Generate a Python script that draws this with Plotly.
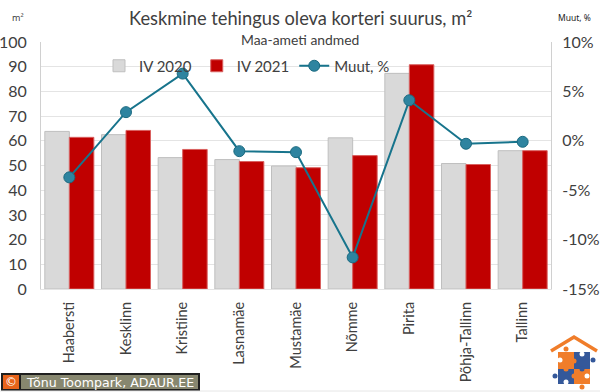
import plotly.graph_objects as go

categories = ["Haabersti", "Kesklinn", "Kristiine", "Lasnamäe", "Mustamäe", "Nõmme", "Pirita", "Põhja-Tallinn", "Tallinn"]
iv_2020 = [63.8, 62.5, 53.2, 52.4, 49.8, 61.2, 87.3, 50.8, 56.0]
iv_2021 = [61.4, 64.2, 56.5, 51.6, 49.1, 54.0, 90.8, 50.4, 56.0]
muut = [-3.7, 2.9, 6.8, -1.05, -1.15, -11.8, 4.1, -0.3, -0.1]
left_ticks = [0, 10, 20, 30, 40, 50, 60, 70, 80, 90, 100]
right_ticks = [-15, -10, -5, 0, 5, 10]
right_labels = ["-15%", "-10%", "-5%", "0%", "5%", "10%"]

W, H = 600, 392
FONT = "Lato"
TXT = "#404040"
GRID = "#e4e4e4"

fig = go.Figure()
fig.add_bar(x=categories, y=iv_2020, name="IV 2020", marker=dict(color="#d9d9d9", line=dict(color="#bfbfbf", width=1)))
fig.add_bar(x=categories, y=iv_2021, name="IV 2021", marker=dict(color="#c00000", line=dict(color="#d9605f", width=1)))
fig.add_scatter(x=categories, y=muut, name="Muut, %", yaxis="y2", mode="lines+markers",
                line=dict(color="#17748c", width=2),
                marker=dict(size=11, color="#2e84a0", line=dict(color="#1a6a80", width=1)))

shapes = [
    dict(type="rect", xref="paper", yref="paper", x0=(126-41)/510, x1=(474-41)/510, y0=1-6/247, y1=1+8/247,
         fillcolor="white", line_width=0, layer="between"),
    dict(type="line", xref="paper", yref="paper", x0=-41/510, x1=559/510, y0=(289-391)/247, y1=(289-391)/247,
         line=dict(color="#e6e6e6", width=1)),
]

def lp(x, y):
    return (x - 41) / 510, (289 - y) / 247
def rect(x0, y0, x1, y1, c, layer="above"):
    a, b = lp(x0, y0); d, e = lp(x1, y1)
    shapes.append(dict(type="rect", xref="paper", yref="paper", x0=a, y0=b, x1=d, y1=e, fillcolor=c, line_width=0, layer=layer))
def line(pts, c, w):
    path = "M " + " L ".join("%.4f,%.4f" % lp(*p) for p in pts)
    shapes.append(dict(type="path", xref="paper", yref="paper", path=path, line=dict(color=c, width=w)))
def dot(x, y, r, c):
    a, b = lp(x - r, y + r); d, e = lp(x + r, y - r)
    shapes.append(dict(type="circle", xref="paper", yref="paper", x0=a, y0=b, x1=d, y1=e, fillcolor=c, line_width=0))

ORANGE, BLUE = "#f07d2a", "#34589a"
line([(551, 351), (574, 337), (597, 351)], ORANGE, 3.5)
rect(558, 352, 574, 369, ORANGE)
rect(574, 352, 590, 369, BLUE)
rect(558, 369, 574, 384, BLUE)
rect(574, 369, 590, 384, ORANGE)
dot(566, 349, 2.5, ORANGE); dot(593, 360, 2.5, BLUE); dot(555, 376, 2.5, BLUE); dot(582, 387, 2.5, ORANGE)
dot(582, 354, 2.5, "white"); dot(560, 360, 2.5, "white"); dot(566, 382, 2.5, "white"); dot(587, 376, 2.5, "white")
dot(574, 361, 2.5, ORANGE); dot(582, 369, 2.5, BLUE); dot(566, 369, 2.5, ORANGE); dot(574, 376, 2.5, ORANGE)

# copyright badge
rect(1, 373, 200, 391, "#1f1f1f", "below")
rect(3, 375, 19, 389, "#e8641b", "below")
rect(21, 375, 198, 389, "#87876f", "below")

def note(text, x, y, size, color=TXT, family=FONT):
    return dict(text=text, xref="paper", yref="paper", x=(x-41)/510, y=(289-y)/247, showarrow=False,
                xanchor="center", yanchor="middle",
                font=dict(family=family, size=size, color=color))

annotations = [
    note("Keskmine tehingus oleva korteri suurus, m²", 300, 18, 18.3),
    note("Maa-ameti andmed", 300, 39.5, 13.9),
    note("m²", 18, 18, 9, family="Noto Sans"),
    note("Muut, %", 574, 18, 8.5, color="#222222", family="Noto Sans"),
    note("©", 11, 382, 12, color="white", family="DejaVu Sans"),
    note("Tõnu Toompark, ADAUR.EE", 109.5, 382, 12.6, color="white", family="DejaVu Sans"),
]

fig.update_layout(
    width=W, height=H, autosize=False, template=None,
    margin=dict(l=41, r=49, t=42, b=103, pad=0),
    paper_bgcolor="white", plot_bgcolor="white",
    barmode="group", bargap=0.135, bargroupgap=0,
    showlegend=True,
    legend=dict(orientation="h", x=(247-41)/510, xanchor="center", y=(289-66)/247, yanchor="middle",
                font=dict(family=FONT, size=15, color=TXT), bgcolor="rgba(0,0,0,0)",
                itemwidth=30),
    xaxis=dict(range=[-0.5, 8.5], tickangle=-90, tickfont=dict(family=FONT, size=14.5, color=TXT), showgrid=False,
               showline=True, linecolor=GRID, linewidth=1, ticks="", ticklabelstandoff=6),
    yaxis=dict(range=[0, 100], tickvals=left_ticks, tickfont=dict(family=FONT, size=16, color=TXT),
               gridcolor=GRID, gridwidth=1, showline=True, linecolor="#d0d0d0", linewidth=1,
               ticks="", zeroline=False, ticklabelstandoff=10),
    yaxis2=dict(range=[-15, 10], tickvals=right_ticks, ticktext=right_labels, overlaying="y", side="right",
                tickfont=dict(family=FONT, size=16, color=TXT), showgrid=False, showline=True,
                linecolor="#d0d0d0", linewidth=1, ticks="", zeroline=False, ticklabelstandoff=7),
    shapes=shapes, annotations=annotations,
)
fig.write_html("out.html", config=dict(displayModeBar=False),
               post_script="document.body.style.margin='0';document.body.style.overflow='hidden';")
